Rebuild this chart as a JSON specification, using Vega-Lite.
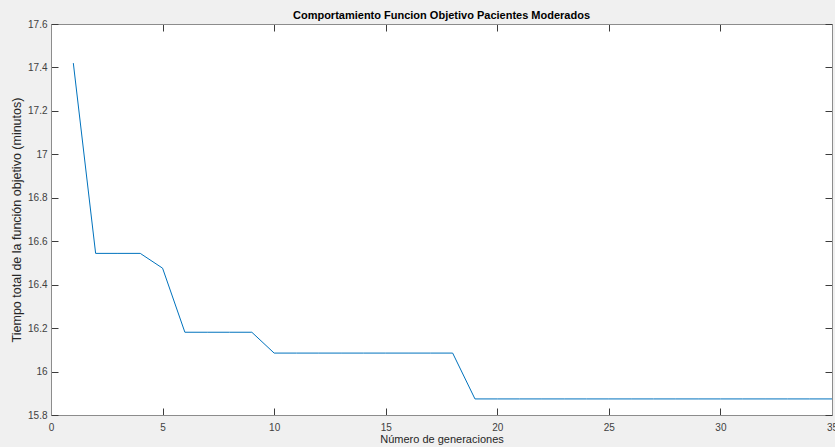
{
  "$schema": "https://vega.github.io/schema/vega-lite/v6.json",
  "width": 781,
  "height": 391,
  "autosize": "none",
  "padding": {"left": 51, "top": 24, "right": 3, "bottom": 32},
  "background": "#f0f0f0",
  "title": {
    "text": "Comportamiento Funcion Objetivo Pacientes Moderados",
    "anchor": "middle",
    "frame": "group",
    "font": "Liberation Sans",
    "fontSize": 11,
    "fontWeight": "bold",
    "color": "#000000",
    "offset": -2
  },
  "config": {
    "view": {"fill": "#ffffff", "stroke": null},
    "axis": {
      "labelFont": "Liberation Sans",
      "labelFontSize": 10,
      "labelColor": "#404040",
      "titleFont": "Liberation Sans",
      "titleFontSize": 11,
      "titleFontWeight": "normal",
      "titleColor": "#262626",
      "domainColor": "#8c8c8c",
      "tickColor": "#3c3c3c",
      "grid": false
    }
  },
  "data": {
    "values": [
      {"gen": 1, "t": 17.42},
      {"gen": 2, "t": 16.544},
      {"gen": 3, "t": 16.544},
      {"gen": 4, "t": 16.544},
      {"gen": 5, "t": 16.476},
      {"gen": 6, "t": 16.181},
      {"gen": 7, "t": 16.181},
      {"gen": 8, "t": 16.181},
      {"gen": 9, "t": 16.181},
      {"gen": 10, "t": 16.085},
      {"gen": 11, "t": 16.085},
      {"gen": 12, "t": 16.085},
      {"gen": 13, "t": 16.085},
      {"gen": 14, "t": 16.085},
      {"gen": 15, "t": 16.085},
      {"gen": 16, "t": 16.085},
      {"gen": 17, "t": 16.085},
      {"gen": 18, "t": 16.085},
      {"gen": 19, "t": 15.874},
      {"gen": 20, "t": 15.874},
      {"gen": 21, "t": 15.874},
      {"gen": 22, "t": 15.874},
      {"gen": 23, "t": 15.874},
      {"gen": 24, "t": 15.874},
      {"gen": 25, "t": 15.874},
      {"gen": 26, "t": 15.874},
      {"gen": 27, "t": 15.874},
      {"gen": 28, "t": 15.874},
      {"gen": 29, "t": 15.874},
      {"gen": 30, "t": 15.874},
      {"gen": 31, "t": 15.874},
      {"gen": 32, "t": 15.874},
      {"gen": 33, "t": 15.874},
      {"gen": 34, "t": 15.874},
      {"gen": 35, "t": 15.874}
    ]
  },
  "layer": [
    {
      "mark": {"type": "line", "color": "#0072bd", "strokeWidth": 1},
      "encoding": {
        "x": {
          "field": "gen", "type": "quantitative",
          "scale": {"domain": [0, 35], "nice": false, "zero": false},
          "axis": {
            "orient": "bottom",
            "values": [0, 5, 10, 15, 20, 25, 30, 35],
            "title": "Número de generaciones",
            "tickSize": -7,
            "labelPadding": 14,
            "titlePadding": 1,
            "labelFlush": false
          }
        },
        "y": {
          "field": "t", "type": "quantitative",
          "scale": {"domain": [15.8, 17.6], "nice": false, "zero": false},
          "axis": {
            "orient": "left",
            "values": [15.8, 16, 16.2, 16.4, 16.6, 16.8, 17, 17.2, 17.4, 17.6],
            "format": "~g",
            "title": "Tiempo total de la función objetivo (minutos)",
            "titleFontSize": 12.5,
            "tickSize": -7,
            "labelPadding": 11,
            "titlePadding": 4,
            "labelFlush": false
          }
        }
      }
    },
    {
      "mark": {"type": "line", "opacity": 0},
      "encoding": {
        "x": {
          "field": "gen", "type": "quantitative",
          "scale": {"domain": [0, 35], "nice": false, "zero": false},
          "axis": {
            "orient": "top",
            "values": [0, 5, 10, 15, 20, 25, 30, 35],
            "labels": false,
            "title": null,
            "tickSize": -7
          }
        },
        "y": {
          "field": "t", "type": "quantitative",
          "scale": {"domain": [15.8, 17.6], "nice": false, "zero": false},
          "axis": {
            "orient": "right",
            "values": [15.8, 16, 16.2, 16.4, 16.6, 16.8, 17, 17.2, 17.4, 17.6],
            "labels": false,
            "title": null,
            "tickSize": -7
          }
        }
      }
    }
  ],
  "resolve": {"axis": {"x": "independent", "y": "independent"}}
}
